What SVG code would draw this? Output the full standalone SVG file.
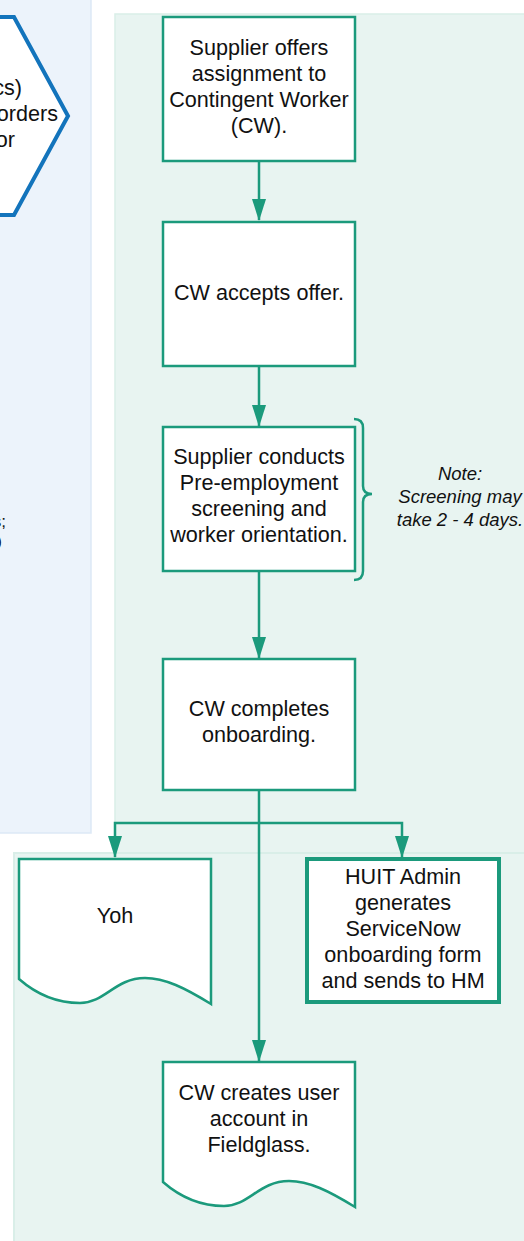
<svg xmlns="http://www.w3.org/2000/svg" width="524" height="1241" viewBox="0 0 524 1241">
<defs>
<style>
.t{font-family:"Liberation Sans",Arial,sans-serif;font-size:21.6px;fill:#111;text-anchor:middle}
.n{font-family:"Liberation Sans",Arial,sans-serif;font-size:18.5px;font-style:italic;fill:#111;text-anchor:middle}
.box{fill:#fff;stroke:#1b9a7c;stroke-width:2.5}
.c{fill:none;stroke:#1b9a7c;stroke-width:2.5}
</style>
<marker id="ah" markerWidth="22" markerHeight="14" refX="21" refY="7" orient="auto" markerUnits="userSpaceOnUse" viewBox="0 0 22 14">
<path d="M0,0 L22,7 L0,14 Z" fill="#1b9a7c"/>
</marker>
</defs>
<rect width="524" height="1241" fill="#fff"/>
<g id="lanes">
<rect x="-2" y="-2" width="93" height="835" fill="#ecf3fb" stroke="#dde9f6" stroke-width="1.5"/>
<rect x="115" y="14" width="412" height="840" fill="#e8f4f1" stroke="#d9eee8" stroke-width="1.5"/>
<rect x="14" y="853" width="513" height="392" fill="#e8f4f1" stroke="#d9eee8" stroke-width="2"/>
</g>
<g id="hex">
<polygon points="-40,17 14,17 68,116 14,215 -40,215" fill="#fff" stroke="#1374bc" stroke-width="4"/>
<text class="t" x="22" y="95" style="text-anchor:end">cs)</text>
<text class="t" x="58" y="121" style="text-anchor:end">orders</text>
<text class="t" x="15" y="147" style="text-anchor:end">or</text>
</g>
<g id="lefttext">
<text class="t" x="6" y="527" style="text-anchor:end;font-size:17px">s;</text>
<text class="t" x="2" y="547" style="text-anchor:end;font-size:17px">)</text>
</g>
<g id="connectors">
<path class="c" d="M259,161 V220" marker-end="url(#ah)"/>
<path class="c" d="M259,366 V426" marker-end="url(#ah)"/>
<path class="c" d="M259,571 V658" marker-end="url(#ah)"/>
<path class="c" d="M259,790 V1061" marker-end="url(#ah)"/>
<path class="c" d="M259,823 H115 V857" marker-end="url(#ah)"/>
<path class="c" d="M259,823 H402 V857" marker-end="url(#ah)"/>
</g>
<g id="n1">
<rect class="box" x="163" y="17" width="192" height="144"/>
<text class="t" x="259" y="55">Supplier offers</text>
<text class="t" x="259" y="81">assignment to</text>
<text class="t" x="259" y="107">Contingent Worker</text>
<text class="t" x="259" y="133">(CW).</text>
</g>
<g id="n2">
<rect class="box" x="163" y="222" width="192" height="144"/>
<text class="t" x="259" y="300">CW accepts offer.</text>
</g>
<g id="n3">
<rect class="box" x="163" y="427" width="192" height="144"/>
<text class="t" x="259" y="464">Supplier conducts</text>
<text class="t" x="259" y="490">Pre-employment</text>
<text class="t" x="259" y="516">screening and</text>
<text class="t" x="259" y="542">worker orientation.</text>
</g>
<g id="note">
<path class="c" d="M354,419 Q363,419 363,428 V486 Q363,494 372,494 Q363,494 363,502 V571 Q363,580 354,580"/>
<text class="n" x="460" y="480">Note:</text>
<text class="n" x="460" y="503">Screening may</text>
<text class="n" x="460" y="526">take 2 - 4 days.</text>
</g>
<g id="n4">
<rect class="box" x="163" y="659" width="192" height="131"/>
<text class="t" x="259" y="716">CW completes</text>
<text class="t" x="259" y="742">onboarding.</text>
</g>
<g id="n5">
<path class="box" d="M19,859 H211 V1004 C185,988 165,978 145,978 C115,978 105,1003 80,1003 C55,1003 35,993 19,979 Z"/>
<text class="t" x="115" y="923">Yoh</text>
</g>
<g id="n6">
<rect x="307" y="859" width="192" height="143" fill="#fff" stroke="#1b9a7c" stroke-width="4"/>
<text class="t" x="403" y="884">HUIT Admin</text>
<text class="t" x="403" y="910">generates</text>
<text class="t" x="403" y="936">ServiceNow</text>
<text class="t" x="403" y="962">onboarding form</text>
<text class="t" x="403" y="988">and sends to HM</text>
</g>
<g id="n7">
<path class="box" d="M163,1062 H355 V1207 C329,1191 309,1181 289,1181 C259,1181 249,1206 224,1206 C199,1206 179,1196 163,1182 Z"/>
<text class="t" x="259" y="1100">CW creates user</text>
<text class="t" x="259" y="1126">account in</text>
<text class="t" x="259" y="1152">Fieldglass.</text>
</g>
</svg>
